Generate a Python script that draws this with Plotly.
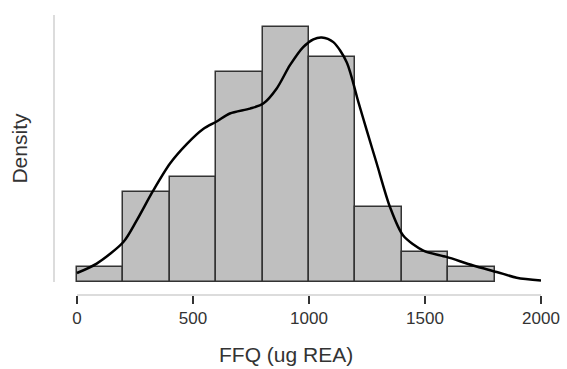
import plotly.graph_objects as go

# Histogram data (bins of width 200 ug REA)
bin_left = [0, 200, 400, 600, 800, 1000, 1200, 1400, 1600]
bin_width = 200
counts = [1, 6, 7, 14, 17, 15, 5, 2, 1]

# Kernel density curve
kde_x = [0, 85, 200, 257, 329, 401, 473, 544, 602, 659, 746, 803, 861, 918, 975,
         1019, 1055, 1105, 1162, 1213, 1249, 1292, 1349, 1406, 1493, 1593, 1708,
         1809, 1895, 2000]
kde_y = [0.0000441, 0.0000904, 0.000196, 0.000301, 0.000449, 0.000581, 0.000676,
         0.000750, 0.000787, 0.000826, 0.000850, 0.000875, 0.000949, 0.001063,
         0.001152, 0.001190, 0.001199, 0.001176, 0.001079, 0.000882, 0.000743,
         0.000581, 0.000368, 0.000228, 0.000154, 0.000123, 0.0000809, 0.0000493,
         0.0000213, 0.0000074]

x_ticks = [0, 500, 1000, 1500, 2000]
x_label = "FFQ (ug REA)"
y_label = "Density"

total = sum(counts)
centers = [b + bin_width / 2 for b in bin_left]
density = [c / (total * bin_width) for c in counts]

FONT = "Liberation Sans, Arial, Helvetica, sans-serif"
TXT = "#333333"

fig = go.Figure()
fig.add_trace(go.Bar(
    x=centers, y=density, width=bin_width,
    marker=dict(color="#bfbfbf", line=dict(color="#333333", width=1.5)),
    hoverinfo="skip",
))
fig.add_trace(go.Scatter(
    x=kde_x, y=kde_y, mode="lines",
    line=dict(color="black", width=2.5, shape="spline", smoothing=0.8),
    cliponaxis=False, hoverinfo="skip",
))

fig.update_layout(
    width=567, height=369,
    margin=dict(l=54, r=26, t=15, b=74, autoexpand=False),
    paper_bgcolor="white", plot_bgcolor="white",
    showlegend=False, bargap=0,
    font=dict(family=FONT, color=TXT, size=17),
    xaxis=dict(range=[-99, 2000], tickvals=x_ticks, ticktext=[str(v) for v in x_ticks],
               ticks="outside", ticklen=8, tickwidth=1.5, tickcolor="#333333",
               showgrid=False, zeroline=False, showline=False, automargin=False,
               tickfont=dict(size=17, color=TXT, family=FONT)),
    yaxis=dict(range=[-0.0000637, 0.001309], showticklabels=False, ticks="",
               showgrid=False, zeroline=False, showline=False, automargin=False),
    shapes=[
        dict(type="line", xref="paper", yref="y", x0=0, x1=0, y0=0, y1=0.001309,
             line=dict(color="#d0d0d0", width=1.5)),
        dict(type="line", xref="x", yref="paper", x0=0, x1=2000, y0=0, y1=0,
             line=dict(color="#d0d0d0", width=1.5)),
    ],
    annotations=[
        dict(text=y_label, textangle=-90, xref="paper", yref="paper", x=0, y=0.523,
             xshift=-34, xanchor="center", yanchor="middle", showarrow=False,
             font=dict(size=21, color=TXT, family=FONT)),
        dict(text=x_label, xref="x", yref="paper", x=901, y=-0.214,
             xanchor="center", yanchor="middle", showarrow=False,
             font=dict(size=21, color=TXT, family=FONT)),
    ],
)

fig.write_html("out.html",
               config={"displayModeBar": False, "responsive": False},
               post_script="document.body.style.margin='0';document.body.style.overflow='hidden';")
